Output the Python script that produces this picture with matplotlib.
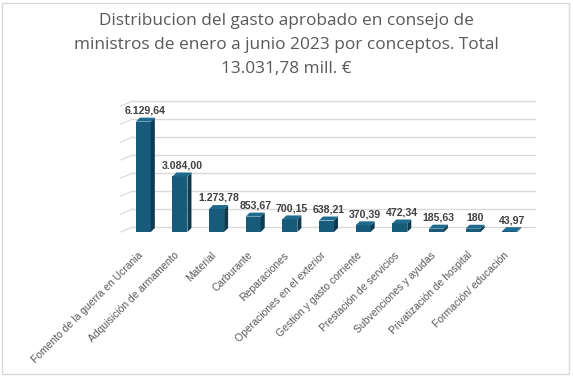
import numpy as np
import matplotlib.pyplot as plt
from matplotlib.patches import Polygon, Rectangle
from matplotlib.transforms import ScaledTranslation

# Datos
conceptos = ['Fomento de la guerra en Ucrania', 'Adquisición de armamento', 'Material',
             'Carburante', 'Reparaciones', 'Operaciones en el exterior',
             'Gestion y gasto corriente', 'Prestación de servicios',
             'Subvenciones y ayudas', 'Privatización de hospital', 'Formación/ educación']
importes = [6129.64, 3084.00, 1273.78, 853.67, 700.15, 638.21, 370.39, 472.34, 185.63, 180, 43.97]
etiquetas = ['6.129,64', '3.084,00', '1.273,78', '853,67', '700,15', '638,21',
             '370,39', '472,34', '185,63', '180', '43,97']
titulo = ('Distribucion del gasto aprobado en consejo de\n'
          'ministros de enero a junio 2023 por conceptos. Total\n'
          '13.031,78 mill. €')

W, H = 573, 377
fig = plt.figure(figsize=(W / 100, H / 100), dpi=100)
fig.patch.set_facecolor('white')
fig.patches.append(Rectangle((2 / W, 3 / H), 567 / W, 371 / H, transform=fig.transFigure,
                             fill=False, edgecolor='#d9d9d9', linewidth=1))

ax_l, ax_r, ax_b, ax_t = 125, 528, 145, 271
ax = fig.add_axes([ax_l / W, ax_b / H, (ax_r - ax_l) / W, (ax_t - ax_b) / H])
ax.set_xlim(-0.5, 10.5)
ax.set_ylim(0, 7000)
for s in ax.spines.values():
    s.set_visible(False)
ax.set_yticks([])

# escalas px -> datos
px_x = (ax_r - ax_l) / 11.0
px_y = (ax_t - ax_b) / 7000.0
dxp, dyp = 4, 4
ddx, ddy = dxp / px_x, dyp / px_y

# paredes / rejilla "3D"
back = ScaledTranslation(0, 4.7 / 100, fig.dpi_scale_trans)
for v in range(0, 8000, 1000):
    ax.plot([-0.31, 10.69], [v, v], color='#d9d9d9', lw=1, transform=ax.transData + back,
            zorder=0, clip_on=False)
    ax.plot([-0.62, -0.31], [v - 4.7 / px_y, v], color='#d9d9d9', lw=0.8,
            transform=ax.transData + back, zorder=0, clip_on=False)

# barras
x = np.arange(len(conceptos))
w = 0.41
front = '#175a7a'
side = '#0e3b50'
top = '#1f6b8e'
ax.bar(x, importes, width=w, color=front, zorder=3)
for xi, v in zip(x, importes):
    xr = xi + w / 2
    xl = xi - w / 2
    ax.add_patch(Polygon([(xr, 0), (xr + ddx, ddy), (xr + ddx, v + ddy), (xr, v)],
                         closed=True, facecolor=side, edgecolor='none', zorder=3))
    ax.add_patch(Polygon([(xl, v), (xr, v), (xr + ddx, v + ddy), (xl + ddx, v + ddy)],
                         closed=True, facecolor=top, edgecolor='none', zorder=3))

for xi, v, t in zip(x, importes, etiquetas):
    ax.annotate(t, (xi + ddx / 2, v), xytext=(0, 8), textcoords='offset points',
                ha='center', va='center', fontsize=7.6, fontweight='bold',
                color='#404040', family='Liberation Sans', zorder=5)

ax.set_xticks(x)
ax.set_xticklabels(conceptos, rotation=45, ha='right', rotation_mode='anchor',
                   fontsize=7.5, color='#595959', family='Liberation Sans')
ax.tick_params(axis='x', length=0, pad=13)
for lbl in ax.get_xticklabels():
    lbl.set_transform(lbl.get_transform() + ScaledTranslation(-6 / 100, 0, fig.dpi_scale_trans))

fig.text(286 / W, 1 - 45 / H, titulo, ha='center', va='center', fontsize=12.4,
         color='#595959', family='Open Sans', linespacing=1.65)

fig.savefig('out.png', dpi=100)
